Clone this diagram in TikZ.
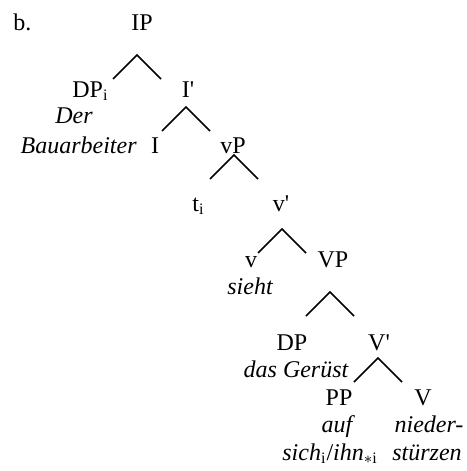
\documentclass[tikz,border=0pt]{standalone}
\usepackage{fontspec}
\setmainfont{Liberation Serif}
\begin{document}
\begin{tikzpicture}[x=0.5pt, y=-0.5pt, font=\fontsize{12}{14}\selectfont,
		cat/.style={anchor=base, inner sep=0pt},
		gloss/.style={cat, font=\fontsize{12}{14}\selectfont\itshape},
		branch/.style={line width=0.8pt}]
				\useasboundingbox (0,0) rectangle (466,471);
				\node [cat, anchor=base west] (lbl) at (13,30) {b.};
				% categories
				\node [cat] (ip) at (142,30) {IP};
				\node [cat, anchor=base west] (dpi) at (72,97) {DP\textsubscript{i}};
				\node [cat] (ibar) at (188,97) {I\textquotesingle};
				\node [cat] (i) at (155,153) {I};
				\node [cat] (vp) at (233,153) {vP};
				\node [cat, anchor=base west] (ti) at (192,211) {t\textsubscript{i}};
				\node [cat] (vbar) at (281,211) {v\textquotesingle};
				\node [cat] (v) at (251,267) {v};
				\node [cat] (VP) at (333,267) {VP};
				\node [cat] (dp) at (292,350) {DP};
				\node [cat] (Vbar) at (379,350) {V\textquotesingle};
				\node [cat] (pp) at (339,405) {PP};
				\node [cat] (V) at (423,405) {V};
				% words
				\node [gloss] (der) at (74,123) {Der};
				\node [gloss, anchor=base east] (bau) at (137,153) {Bauarbeiter};
				\node [gloss] (sieht) at (250,294) {sieht};
				\node [gloss] (geruest) at (296,377) {das Gerüst};
				\node [gloss] (auf) at (337,432) {auf};
				\node [gloss, anchor=base west] (sich) at (282,460)
					{sich\textup{\textsubscript{i}/}ihn\textup{\textsubscript{$*$i}}};
				\node [gloss] (nieder) at (429,432) {nieder-};
				\node [gloss] (stuerzen) at (427,460) {stürzen};
				% branches
				\foreach \n/\x/\y in {a/137/55, b/186/107, c/234/155, d/282/229, e/330/292, f/378/358}
					{
						\coordinate (\n) at (\x,\y);
						\draw[branch] (\n) ++(-24,24) -- (\n) -- ++(24,24);
					}
			\end{tikzpicture}
\end{document}
